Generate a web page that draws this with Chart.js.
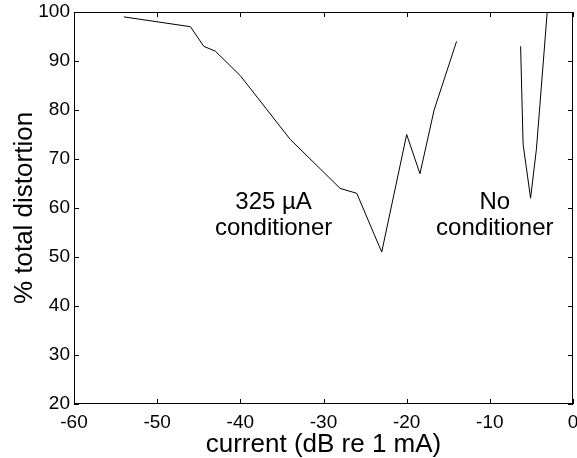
<!DOCTYPE html>
<html>
<head>
<meta charset="utf-8">
<script src="https://cdn.jsdelivr.net/npm/chart.js@4/dist/chart.umd.min.js"></script>
<style>
  html, body { margin: 0; padding: 0; background: #fff; }
  canvas { display: block; }
</style>
</head>
<body>
<canvas id="chart" width="577" height="458"></canvas>
<script>
// 325 uA conditioner curve
const condX = [-54, -46, -44.4, -43, -40, -34, -28, -26, -23, -20, -18.4, -16.7, -14];
const condY = [99, 97, 93, 92, 87, 74, 64, 63, 51, 75, 67, 80, 94];
// no conditioner curve
const noCondX = [-6.3, -6, -5.1, -4.4, -3.1];
const noCondY = [93, 73, 62, 72, 100];

const xTicks = [-60, -50, -40, -30, -20, -10, 0];
const yTicks = [20, 30, 40, 50, 60, 70, 80, 90, 100];

const noteText = [['325 \u00b5A', 'conditioner'], ['No', 'conditioner']];
const noteX = [-36, -9.4];
const noteY = [59.8, 59.8];

const FONT = 'Arial, "Liberation Sans", Helvetica, sans-serif';

const toPoints = function (xs, ys) {
  return xs.map((x, i) => ({ x: x, y: ys[i] }));
};

// frame round the plot area with inward tick marks (matlab style)
const framePlugin = {
  id: 'frame',
  afterDraw(chart) {
    const ctx = chart.ctx;
    const a = chart.chartArea;
    const xs = chart.scales.x;
    const ys = chart.scales.y;
    const len = 5;
    ctx.save();
    ctx.strokeStyle = '#000';
    ctx.lineWidth = 1;
    ctx.strokeRect(a.left + 0.5, a.top + 0.5, a.right - a.left - 1, a.bottom - a.top - 1);
    ctx.beginPath();
    for (let t of xTicks) {
      const px = Math.round(xs.getPixelForValue(t)) + 0.5;
      ctx.moveTo(px, a.bottom);
      ctx.lineTo(px, a.bottom - len);
      ctx.moveTo(px, a.top);
      ctx.lineTo(px, a.top + len);
    }
    for (let t of yTicks) {
      const py = Math.round(ys.getPixelForValue(t)) + 0.5;
      ctx.moveTo(a.left, py);
      ctx.lineTo(a.left + len, py);
      ctx.moveTo(a.right, py);
      ctx.lineTo(a.right - len, py);
    }
    ctx.stroke();
    ctx.restore();
  },
};

// text labels next to each curve
const notePlugin = {
  id: 'notes',
  afterDatasetsDraw(chart) {
    const ctx = chart.ctx;
    const xs = chart.scales.x;
    const ys = chart.scales.y;
    ctx.save();
    ctx.fillStyle = '#000';
    ctx.font = '24px ' + FONT;
    ctx.textAlign = 'center';
    ctx.textBaseline = 'alphabetic';
    noteText.forEach((lines, i) => {
      const px = xs.getPixelForValue(noteX[i]);
      const py = ys.getPixelForValue(noteY[i]);
      lines.forEach((line, j) => {
        ctx.fillText(line, px, py + j * 26);
      });
    });
    ctx.restore();
  },
};

const lineStyle = {
  showLine: true,
  borderColor: '#000',
  borderWidth: 1,
  pointRadius: 0,
  fill: false,
  tension: 0,
};

new Chart(document.getElementById('chart'), {
  type: 'scatter',
  data: {
    datasets: [
      Object.assign({ label: '325 uA conditioner', data: toPoints(condX, condY) }, lineStyle),
      Object.assign({ label: 'No conditioner', data: toPoints(noCondX, noCondY) }, lineStyle),
    ],
  },
  options: {
    responsive: false,
    animation: false,
    layout: { padding: { top: 12, right: 4, left: 0, bottom: 0 } },
    plugins: {
      legend: { display: false },
      tooltip: { enabled: false },
    },
    scales: {
      x: {
        type: 'linear',
        min: -60,
        max: 0,
        grid: { display: false, drawTicks: false },
        border: { display: false },
        ticks: {
          stepSize: 10,
          color: '#000',
          padding: 7,
          maxRotation: 0,
          font: { family: FONT, size: 19 },
        },
        title: {
          display: true,
          text: 'current (dB re 1 mA)',
          color: '#000',
          font: { family: FONT, size: 26, lineHeight: 1 },
          padding: { top: 0, bottom: 0 },
        },
        afterFit(scale) {
          scale.height = 54;
          // let the end labels hang over the edge, like the original
          scale.paddingLeft = 0;
          scale.paddingRight = 0;
        },
      },
      y: {
        type: 'linear',
        min: 20,
        max: 100,
        grid: { display: false, drawTicks: false },
        border: { display: false },
        ticks: {
          stepSize: 10,
          color: '#000',
          padding: 4,
          font: { family: FONT, size: 19 },
        },
        title: {
          display: true,
          text: '% total distortion',
          color: '#000',
          font: { family: FONT, size: 26 },
          padding: { top: 9, bottom: 0 },
        },
        afterFit(scale) {
          scale.width = 74;
          scale.paddingTop = 0;
          scale.paddingBottom = 0;
        },
      },
    },
  },
  plugins: [framePlugin, notePlugin],
});
</script>
</body>
</html>
